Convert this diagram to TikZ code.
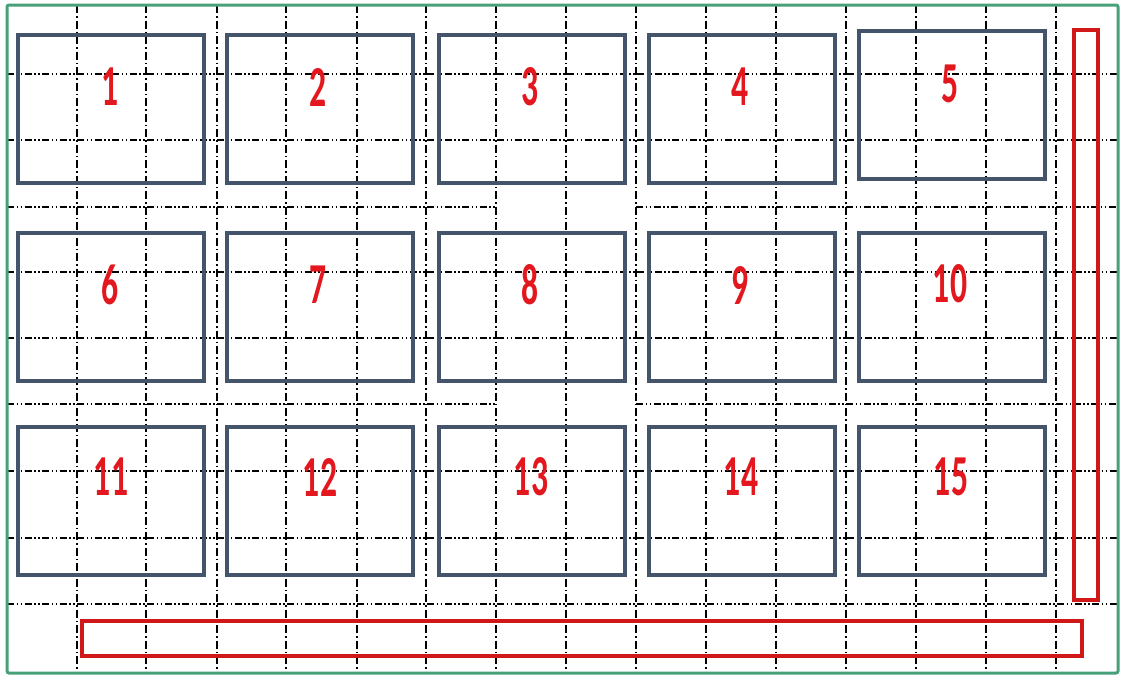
\documentclass[tikz,border=0pt]{standalone}
\usepackage{fontspec}
\newfontfamily\labfont{Carlito}[BoldFont={* Bold}]
\definecolor{frameg}{RGB}{72,160,122}
\definecolor{boxblue}{RGB}{68,84,106}
\definecolor{barred}{RGB}{208,24,24}
\definecolor{labred}{RGB}{226,24,30}
\tikzset{
  hgrid/.style={black, line width=1.3pt, dash pattern=on 7pt off 2.5pt on 1.5pt off 2.5pt on 1.5pt off 2.5pt},
  vgrid/.style={black, line width=1.3pt, dash pattern=on 8pt off 3pt on 1.5pt off 3pt},
  seatbox/.style={draw=boxblue, line width=4pt, minimum width=186pt, minimum height=148pt, inner sep=0pt, rectangle},
  barbox/.style={draw=barred, line width=3.5pt, inner sep=0pt, rectangle},
  lab/.style={text=labred, inner sep=0pt, font=\labfont\bfseries\fontsize{58}{58}\selectfont}
}
\newcommand{\nlab}[1]{\scalebox{0.58}[1]{#1}}
\begin{document}
\begin{tikzpicture}[x=1pt,y=-1pt]
\useasboundingbox (0,0) rectangle (1121,675);
\fill[white] (0,0) rectangle (1121,675);
% grid
\foreach \gx in {77,146,217,286,357,426,496,566,636,706,776,846,916,986,1056}
  \draw[vgrid] (\gx,5) -- (\gx,673);
\foreach \gy in {74,140,272,338,471,538,604}
  \draw[hgrid] (7,\gy) -- (1118,\gy);
\foreach \gy in {207,404}{
  \draw[hgrid] (7,\gy) -- (496,\gy);
  \draw[hgrid] (636,\gy) -- (1118,\gy);
}
% frame
\draw[frameg, line width=3pt, rounded corners=2pt] (7,5) rectangle (1118,673);
% boxes
\node[seatbox] (b1) at (111,109) {};
\node[seatbox] (b2) at (320,109) {};
\node[seatbox] (b3) at (532,109) {};
\node[seatbox] (b4) at (742,109) {};
\node[seatbox] (b5) at (952,105) {};
\node[seatbox] (b6) at (111,307) {};
\node[seatbox] (b7) at (320,307) {};
\node[seatbox] (b8) at (532,307) {};
\node[seatbox] (b9) at (742,307) {};
\node[seatbox] (b10) at (952,307) {};
\node[seatbox] (b11) at (111,501) {};
\node[seatbox] (b12) at (320,501) {};
\node[seatbox] (b13) at (532,501) {};
\node[seatbox] (b14) at (742,501) {};
\node[seatbox] (b15) at (952,501) {};
% labels
\node[lab] (l1) at (110,87) {\nlab{1}};
\node[lab] (l2) at (318,87) {\nlab{2}};
\node[lab] (l3) at (530,87) {\nlab{3}};
\node[lab] (l4) at (740,87) {\nlab{4}};
\node[lab] (l5) at (950,84) {\nlab{5}};
\node[lab] (l6) at (110,285) {\nlab{6}};
\node[lab] (l7) at (318,285) {\nlab{7}};
\node[lab] (l8) at (530,285) {\nlab{8}};
\node[lab] (l9) at (740,285) {\nlab{9}};
\node[lab] (l10) at (950,284) {\nlab{10}};
\node[lab] (l11) at (111,477) {\nlab{11}};
\node[lab] (l12) at (320,477) {\nlab{12}};
\node[lab] (l13) at (531,477) {\nlab{13}};
\node[lab] (l14) at (741,477) {\nlab{14}};
\node[lab] (l15) at (951,477) {\nlab{15}};
% red bars
\node[barbox, minimum width=24pt, minimum height=570pt] (vbar) at (1086,315) {};
\node[barbox, minimum width=1000pt, minimum height=35pt] (hbar) at (582,638.5) {};
\end{tikzpicture}
\end{document}
